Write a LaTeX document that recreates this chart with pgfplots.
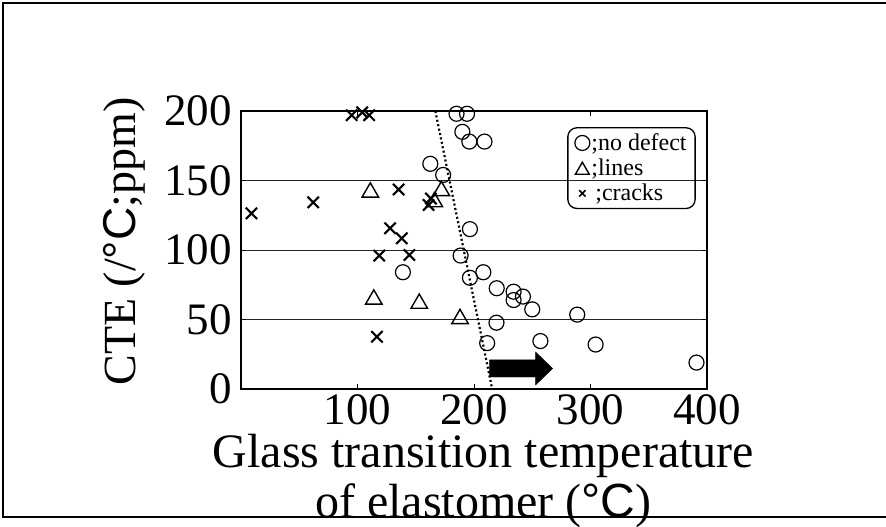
\documentclass[border=0pt]{standalone}
\usepackage{fontspec}
\setmainfont{Liberation Serif}
\setsansfont{Liberation Sans}
\usepackage{pgfplots}
\pgfplotsset{compat=1.18}
\pgfplotsset{
  legA/.style={legend image code/.code={\draw[##1] plot coordinates {(0pt,0pt)};}},
  legB/.style={legend image code/.code={\draw[##1, mark size=8pt] plot coordinates {(0pt,-2pt)};}},
  legC/.style={legend image code/.code={\draw[##1, mark size=4.5pt, line width=1.6pt] plot coordinates {(0pt,0pt)};}},
}
\begin{document}
\begin{tikzpicture}[x=1pt,y=1pt]
\useasboundingbox (0,0) rectangle (886,527);
\draw[line width=1.5pt] (886,524) -- (3,524) -- (3,10) -- (886,10);
\begin{axis}[
  at={(241pt,138pt)}, anchor=south west,
  scale only axis, width=466pt, height=278pt,
  xmin=0, xmax=400, ymin=0, ymax=200,
  xtick={100,200,300,400}, ytick={0,50,100,150,200},
  tick align=inside, major tick length=5pt,
  tick style={black, line width=0.8pt},
  ymajorgrids, grid style={black!85, line width=0.7pt},
  axis line style={line width=1.5pt},
  /pgf/number format/assume math mode=true,
  ticklabel style={font=\fontsize{45}{45}\selectfont, inner sep=0pt},
  xticklabel style={yshift=-5pt},
  yticklabel style={xshift=-9pt},
  xlabel={Glass transition temperature\\of elastomer ({\sffamily °C})},
  xlabel style={at={(axis description cs:0.52,-0.162)}, anchor=north, align=center,
    inner sep=0pt, font=\fontsize{48}{49.5}\selectfont},
  ylabel={CTE (/{\sffamily °C};ppm)},
  ylabel style={at={(axis description cs:-0.251,0.53)}, anchor=center, inner sep=0pt,
    font=\fontsize{46}{46}\selectfont},
  legend style={at={(0.7,0.942)}, anchor=north west, draw=black, line width=1.3pt,
    rounded corners=9pt, fill=none, font=\fontsize{24}{24}\selectfont,
    inner xsep=7pt, inner ysep=4.5pt, nodes={inner sep=1.5pt}, row sep=4pt},
  legend cell align=left,
]
\addplot[only marks, mark=o, mark size=7.5pt, line width=1.2pt, black, legA]
  coordinates {
  (185,198) (194,198) (190,185) (196,178) (209,178) (162.5,162) (173.5,154)
  (196.5,115) (188.5,96) (139,84) (196.5,80) (208,84) (219.5,72.5) (234,70)
  (242,66.5) (234,64) (250,57.3) (288.6,53.5) (219.3,47.7) (211.3,33)
  (257,34.5) (304.4,32) (391,19)
  };
\addlegendentry{;no defect}
\addplot[only marks, mark=triangle, mark size=9.5pt, line width=1.4pt, black, legB]
  coordinates {
  (111,141.5) (172,142.5) (166,134.5) (114,64.5) (153,61.5) (188,50.5)
  };
\addlegendentry{;lines}
\addplot[only marks, mark=x, mark size=8pt, line width=2.1pt, black, legC]
  coordinates {
  (95,197) (104,199) (110,197) (9,126.4) (62,134.3) (135.3,143.5) (161,132.4)
  (163,137) (128,115.6) (138,108.4) (118.7,96) (144.5,96.4) (116.7,37.6)
  };
\addlegendentry{\,;cracks}
\addplot[black, line width=2.2pt, dash pattern=on 2pt off 2.5pt, forget plot]
  coordinates {(166.8,200) (215.6,0)};
\addplot[fill=black, draw=black, forget plot]
  coordinates {(213.3,8.6) (252.9,8.6) (252.9,2.9) (267.5,14.75) (252.9,26.6) (252.9,20.9) (213.3,20.9)} -- cycle;
\end{axis}
\end{tikzpicture}
\end{document}
